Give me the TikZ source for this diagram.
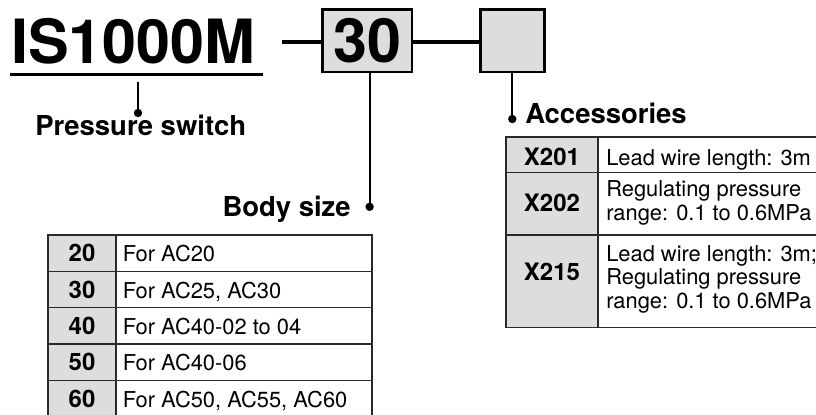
\documentclass[tikz,border=0pt]{standalone}
\usepackage{fontspec}
\setmainfont{TeX Gyre Heros}
\definecolor{cellgray}{HTML}{DDDDDD}
\definecolor{rulegray}{HTML}{2A2A2A}
\begin{document}
\begin{tikzpicture}[x=0.75pt,y=-0.75pt,
  big/.style={font=\bfseries\fontsize{45.75pt}{50pt}\selectfont, inner sep=0pt},
  codebox/.style={draw=black, line width=1.9pt, fill=cellgray, inner sep=0pt, outer sep=0pt},
  conn/.style={line width=3pt},
  lead/.style={line width=1.5pt},
  leaddot/.style={circle, fill=black, inner sep=0pt, minimum size=6.3pt},
  title/.style={font=\bfseries\fontsize{20.6pt}{24pt}\selectfont, inner sep=0pt},
  kcell/.style={draw=rulegray, line width=1.1pt, fill=cellgray, inner sep=0pt, outer sep=0pt, anchor=north west},
  vcell/.style={draw=rulegray, line width=1.1pt, fill=white, inner sep=0pt, outer sep=0pt, anchor=north west},
  num/.style={font=\bfseries\fontsize{18pt}{21pt}\selectfont, inner sep=0pt, anchor=base},
  txt/.style={font=\fontsize{16.4pt}{19pt}\selectfont, inner sep=0pt, anchor=base west}]
\useasboundingbox (0,0) rectangle (816,414);
\clip (0,0) rectangle (816,414);

% model code
\node[big, anchor=base west] (model) at (11,63) {IS1000M};
\coordinate (ulA) at (10,74.3);
\coordinate (ulB) at (263,74.3);
\draw[line width=2.4pt] (ulA) -- (ulB);
\coordinate (c1) at (282,41.5);
\node[codebox, minimum width=67.1pt, minimum height=46.9pt] (box30) at (367.25,40.75) {\bfseries\fontsize{45.75pt}{50pt}\selectfont 30};
\node[codebox, minimum width=48pt, minimum height=46.9pt] (boxacc) at (512.5,40.75) {};
\draw[conn] (c1) -- (c1 -| box30.west);
\draw[conn] (box30.east |- c1) -- (boxacc.west |- c1);

% pressure switch
\coordinate (psTop) at (138,81.5);
\node[leaddot] (psDot) at (138,113) {};
\draw[lead] (psTop) -- (psDot.center);
\node[title, anchor=base west] (ps) at (35,135) {Pressure switch};

% body size
\node[leaddot] (bsDot) at (369.6,206.8) {};
\draw[lead] (bsDot.center |- box30.south) -- (bsDot.center);
\node[title, anchor=base east] (bs) at (351,216) {Body size};

% accessories
\node[leaddot] (acDot) at (512.3,119) {};
\draw[lead] (acDot.center |- boxacc.south) -- (acDot.center);
\node[title, anchor=base west] (ac) at (525,123) {Accessories};

% body size table (last row runs past the bottom edge)
\foreach \n/\t [count=\i from 0] in {20/For AC20, 30/{For AC25, AC30}, 40/For AC40-02 to 04, 50/For AC40-06, 60/{For AC50, AC55, AC60}} {
  \pgfmathsetmacro{\rowh}{ifthenelse(\i==4,40,27.25)}
  \node[kcell, minimum width=51pt, minimum height=\rowh pt] (bk\i) at (48,{235+36.33*\i}) {};
  \node[vcell, minimum width=192pt, minimum height=\rowh pt] (bv\i) at (116,{235+36.33*\i}) {};
  \node[num] (bn\i) at (82,{261.7+36.33*\i}) {\n};
  \node[txt] (bt\i) at (122.5,{261.7+36.33*\i}) {\t};
}

% accessories table
\node[kcell, minimum width=69pt, minimum height=26.8pt] (a1k) at (506,137) {};
\node[vcell, minimum width=180pt, minimum height=26.8pt] (a1v) at (598,137) {};
\node[kcell, minimum width=69pt, minimum height=46.7pt] (a2k) at (506,172.7) {};
\node[vcell, minimum width=180pt, minimum height=46.7pt] (a2v) at (598,172.7) {};
\node[kcell, minimum width=69pt, minimum height=69.5pt] (a3k) at (506,235) {};
\node[vcell, minimum width=180pt, minimum height=69.5pt] (a3v) at (598,235) {};
\draw[rulegray, line width=2pt] (a1k.north west) -- (a1v.north east);

\node[num] (x201) at (552,165) {X201};
\node[txt] (t201) at (606,165) {Lead wire length: 3m};
\node[num] (x202) at (552,211.7) {X202};
\node[txt] (t202a) at (606,196.7) {Regulating pressure};
\node[txt] (t202b) at (606,220.3) {range: 0.1 to 0.6MPa};
\node[num] (x215) at (552,280.7) {X215};
\node[txt] (t215a) at (606,261.2) {Lead wire length: 3m;};
\node[txt] (t215b) at (606,284.6) {Regulating pressure};
\node[txt] (t215c) at (606,308.1) {range: 0.1 to 0.6MPa};
\end{tikzpicture}
\end{document}
